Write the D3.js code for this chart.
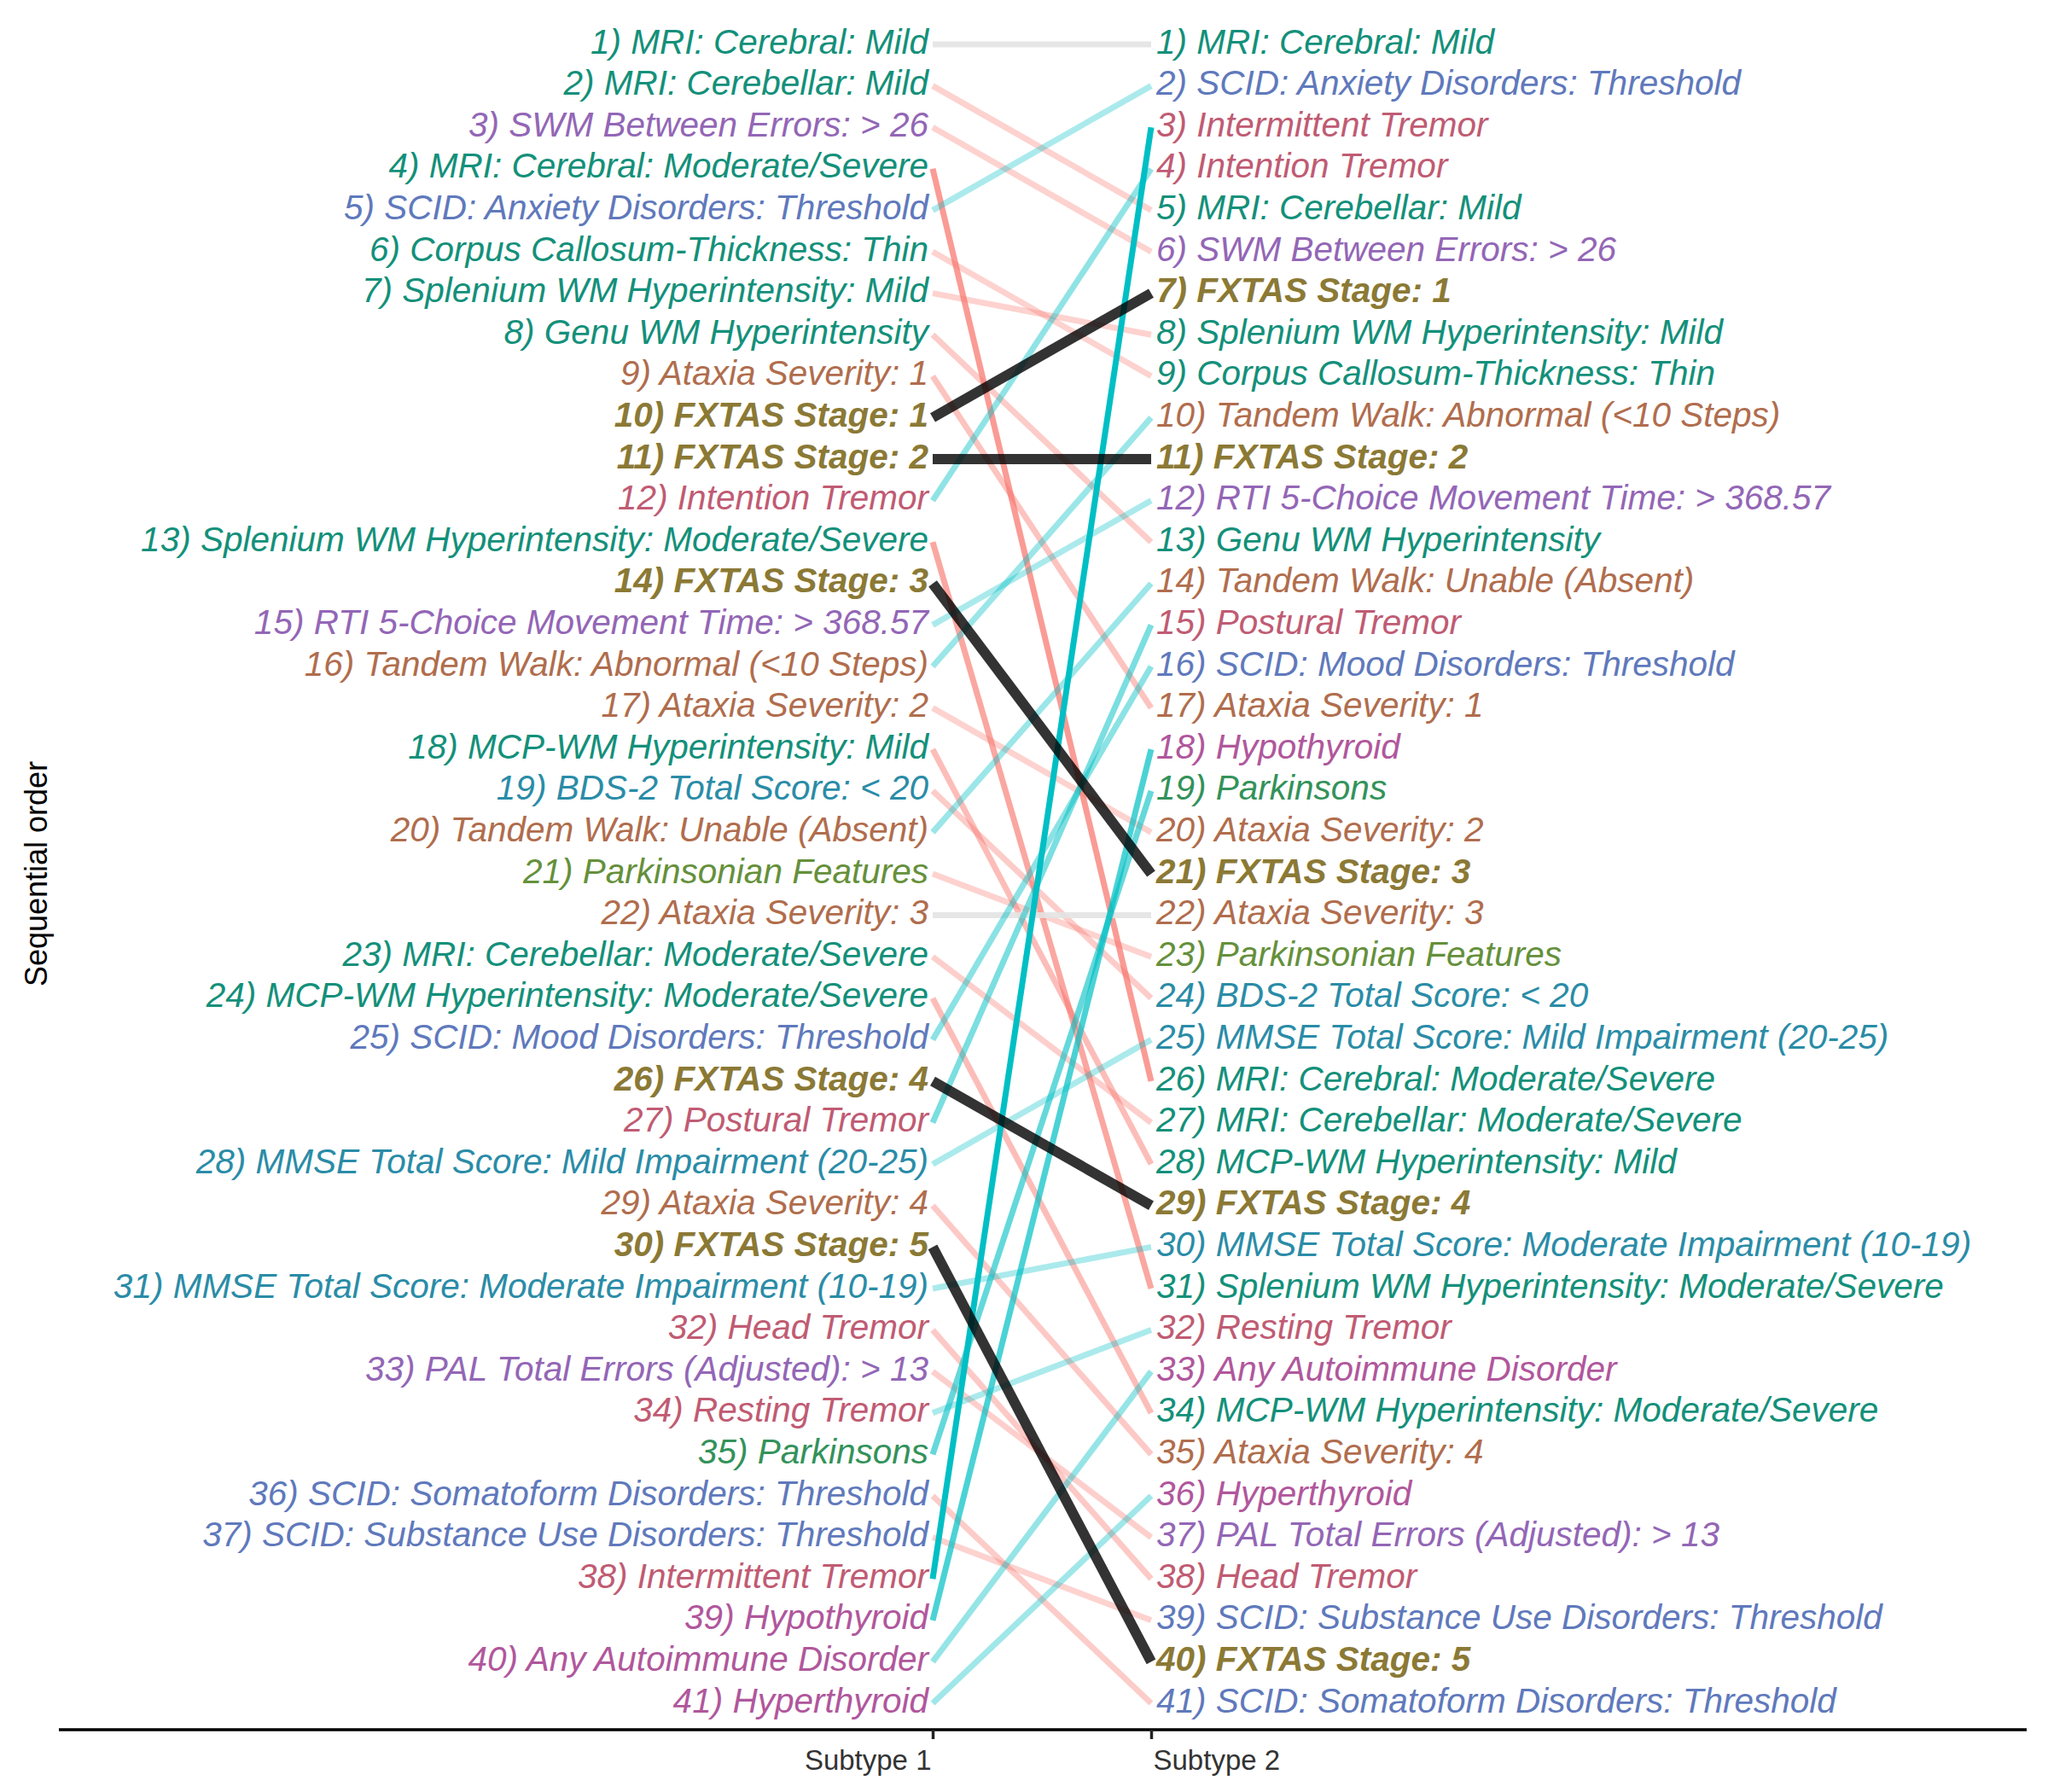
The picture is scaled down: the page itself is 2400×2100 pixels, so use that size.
<!DOCTYPE html>
<html>
<head>
<meta charset="utf-8">
<script src="https://cdn.jsdelivr.net/npm/d3@7"></script>
<style>
  html, body { margin: 0; padding: 0; background: #fff; }
  svg { display: block; }
</style>
</head>
<body>
<svg id="chart" width="2400" height="2100"></svg>
<script>
// ---------- DATA ----------
const subtypes = ["Subtype 1", "Subtype 2"];

const subtype1Order = [
  "MRI: Cerebral: Mild",
  "MRI: Cerebellar: Mild",
  "SWM Between Errors: > 26",
  "MRI: Cerebral: Moderate/Severe",
  "SCID: Anxiety Disorders: Threshold",
  "Corpus Callosum-Thickness: Thin",
  "Splenium WM Hyperintensity: Mild",
  "Genu WM Hyperintensity",
  "Ataxia Severity: 1",
  "FXTAS Stage: 1",
  "FXTAS Stage: 2",
  "Intention Tremor",
  "Splenium WM Hyperintensity: Moderate/Severe",
  "FXTAS Stage: 3",
  "RTI 5-Choice Movement Time: > 368.57",
  "Tandem Walk: Abnormal (<10 Steps)",
  "Ataxia Severity: 2",
  "MCP-WM Hyperintensity: Mild",
  "BDS-2 Total Score: < 20",
  "Tandem Walk: Unable (Absent)",
  "Parkinsonian Features",
  "Ataxia Severity: 3",
  "MRI: Cerebellar: Moderate/Severe",
  "MCP-WM Hyperintensity: Moderate/Severe",
  "SCID: Mood Disorders: Threshold",
  "FXTAS Stage: 4",
  "Postural Tremor",
  "MMSE Total Score: Mild Impairment (20-25)",
  "Ataxia Severity: 4",
  "FXTAS Stage: 5",
  "MMSE Total Score: Moderate Impairment (10-19)",
  "Head Tremor",
  "PAL Total Errors (Adjusted): > 13",
  "Resting Tremor",
  "Parkinsons",
  "SCID: Somatoform Disorders: Threshold",
  "SCID: Substance Use Disorders: Threshold",
  "Intermittent Tremor",
  "Hypothyroid",
  "Any Autoimmune Disorder",
  "Hyperthyroid"
];

const subtype2Order = [
  "MRI: Cerebral: Mild",
  "SCID: Anxiety Disorders: Threshold",
  "Intermittent Tremor",
  "Intention Tremor",
  "MRI: Cerebellar: Mild",
  "SWM Between Errors: > 26",
  "FXTAS Stage: 1",
  "Splenium WM Hyperintensity: Mild",
  "Corpus Callosum-Thickness: Thin",
  "Tandem Walk: Abnormal (<10 Steps)",
  "FXTAS Stage: 2",
  "RTI 5-Choice Movement Time: > 368.57",
  "Genu WM Hyperintensity",
  "Tandem Walk: Unable (Absent)",
  "Postural Tremor",
  "SCID: Mood Disorders: Threshold",
  "Ataxia Severity: 1",
  "Hypothyroid",
  "Parkinsons",
  "Ataxia Severity: 2",
  "FXTAS Stage: 3",
  "Ataxia Severity: 3",
  "Parkinsonian Features",
  "BDS-2 Total Score: < 20",
  "MMSE Total Score: Mild Impairment (20-25)",
  "MRI: Cerebral: Moderate/Severe",
  "MRI: Cerebellar: Moderate/Severe",
  "MCP-WM Hyperintensity: Mild",
  "FXTAS Stage: 4",
  "MMSE Total Score: Moderate Impairment (10-19)",
  "Splenium WM Hyperintensity: Moderate/Severe",
  "Resting Tremor",
  "Any Autoimmune Disorder",
  "MCP-WM Hyperintensity: Moderate/Severe",
  "Ataxia Severity: 4",
  "Hyperthyroid",
  "PAL Total Errors (Adjusted): > 13",
  "Head Tremor",
  "SCID: Substance Use Disorders: Threshold",
  "FXTAS Stage: 5",
  "SCID: Somatoform Disorders: Threshold"
];

// group of each event, parallel to subtype1Order
const eventGroups = [
  "imaging", "imaging", "cantab", "imaging", "scid", "imaging", "imaging", "imaging",
  "ataxia", "stage", "stage", "tremor", "imaging", "stage", "cantab", "ataxia",
  "ataxia", "imaging", "cognitive", "ataxia", "parkfeat", "ataxia", "imaging", "imaging",
  "scid", "stage", "tremor", "cognitive", "ataxia", "stage", "cognitive", "tremor",
  "cantab", "tremor", "parkinsons", "scid", "scid", "tremor", "thyroid", "thyroid", "thyroid"
];

const groupNames  = ["imaging", "cantab", "scid", "ataxia", "stage", "tremor", "cognitive", "parkfeat", "parkinsons", "thyroid"];
const groupColors = ["#13907a", "#9366b6", "#5f79bc", "#b06d4d", "#8b7935", "#c05b73", "#2a8ca7", "#65903b", "#33925a", "#b0579c"];

const tickLabels = ["Subtype 1", "Subtype 2"];
const yAxisLabel = "Sequential order";

// ---------- BUILD ----------
const svg = d3.select("#chart");
const FONT = "'Liberation Sans', Arial, Helvetica, sans-serif";

const groupColor = d3.scaleOrdinal().domain(groupNames).range(groupColors);
const groupOf = new Map(subtype1Order.map((n, i) => [n, eventGroups[i]]));

const rows = subtype1Order.map((name, i) => ({
  name,
  r1: i + 1,
  r2: subtype2Order.indexOf(name) + 1,
  group: eventGroups[i]
}));

const x = d3.scalePoint().domain(subtypes).range([1093, 1349]);
const y = d3.scaleLinear().domain([1, subtype1Order.length]).range([52, 1996]);

const opacity = d3.scaleLinear().domain([3, 35]).range([0.33, 1]).clamp(true);

// connecting lines (non-stage first)
const gLines = svg.append("g");
const normal = rows.filter(d => d.group !== "stage");
const stages = rows.filter(d => d.group === "stage");

gLines.selectAll("line.norm")
  .data(normal)
  .join("line")
  .attr("class", "norm")
  .attr("x1", x(subtypes[0]))
  .attr("x2", x(subtypes[1]))
  .attr("y1", d => y(d.r1))
  .attr("y2", d => y(d.r2))
  .attr("stroke", d => d.r2 === d.r1 ? "#e3e3e3" : (d.r2 > d.r1 ? "#F8766D" : "#00BFC4"))
  .attr("stroke-opacity", d => d.r2 === d.r1 ? 0.9 : opacity(Math.abs(d.r2 - d.r1)))
  .attr("stroke-width", 7);

gLines.selectAll("line.stage")
  .data(stages)
  .join("line")
  .attr("class", "stage")
  .attr("x1", x(subtypes[0]))
  .attr("x2", x(subtypes[1]))
  .attr("y1", d => y(d.r1))
  .attr("y2", d => y(d.r2))
  .attr("stroke", "#000")
  .attr("stroke-opacity", 0.8)
  .attr("stroke-width", 12);

// labels
const fontSize = 40.5;
svg.append("g").selectAll("text")
  .data(rows)
  .join("text")
  .attr("x", x(subtypes[0]) - 5)
  .attr("y", d => y(d.r1))
  .attr("dy", "0.26em")
  .attr("text-anchor", "end")
  .attr("font-family", FONT)
  .attr("font-size", fontSize)
  .attr("font-style", "italic")
  .attr("font-weight", d => d.group === "stage" ? "bold" : "normal")
  .attr("fill", d => groupColor(d.group))
  .text(d => `${d.r1}) ${d.name}`);

const rows2 = subtype2Order.map((name, i) => ({ name, r2: i + 1, group: groupOf.get(name) }));
svg.append("g").selectAll("text")
  .data(rows2)
  .join("text")
  .attr("x", x(subtypes[1]) + 6)
  .attr("y", d => y(d.r2))
  .attr("dy", "0.26em")
  .attr("text-anchor", "start")
  .attr("font-family", FONT)
  .attr("font-size", fontSize)
  .attr("font-style", "italic")
  .attr("font-weight", d => d.group === "stage" ? "bold" : "normal")
  .attr("fill", d => groupColor(d.group))
  .text(d => `${d.r2}) ${d.name}`);

// bottom axis
const axisY = 2027;
const gAxis = svg.append("g")
  .attr("transform", `translate(0,${axisY})`)
  .call(d3.axisBottom(x).tickSize(11).tickSizeOuter(0).tickFormat((d, i) => tickLabels[i]));
gAxis.select(".domain")
  .attr("d", "M69,0H2375")
  .attr("stroke", "#000")
  .attr("stroke-width", 3.5);
gAxis.selectAll(".tick line")
  .attr("stroke", "#222")
  .attr("stroke-width", 3.5);
gAxis.selectAll(".tick text")
  .attr("font-family", FONT)
  .attr("font-size", 33)
  .attr("fill", "#333")
  .attr("y", 24)
  .attr("dy", "0.71em")
  .attr("text-anchor", (d, i) => i === 0 ? "end" : "start")
  .attr("x", (d, i) => i === 0 ? -2 : 2);

// y label
svg.append("text")
  .attr("transform", `translate(42,${(y.range()[0] + y.range()[1]) / 2}) rotate(-90)`)
  .attr("text-anchor", "middle")
  .attr("dy", "0.35em")
  .attr("font-family", FONT)
  .attr("font-size", 36)
  .attr("fill", "#000")
  .text(yAxisLabel);
</script>
</body>
</html>
